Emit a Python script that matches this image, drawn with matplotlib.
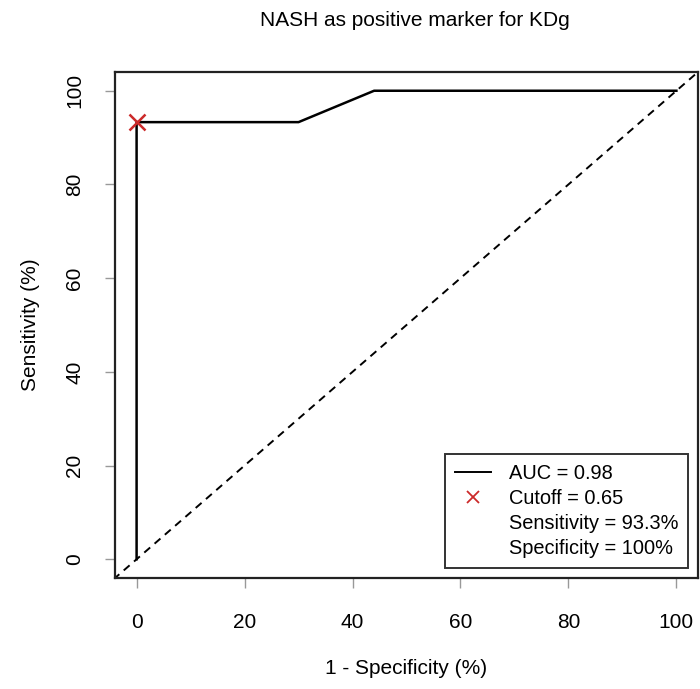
import matplotlib.pyplot as plt
from matplotlib.lines import Line2D

plt.rcParams['font.family'] = ['Liberation Sans', 'DejaVu Sans']

# ROC curve points (percent)
fpr = [0, 0, 30, 44, 100]
tpr = [0, 93.3, 93.3, 100, 100]
cutoff_fpr = 0
cutoff_tpr = 93.3
ticks = [0, 20, 40, 60, 80, 100]
legend_labels = ['AUC = 0.98', 'Cutoff = 0.65', 'Sensitivity = 93.3%', 'Specificity = 100%']

fig = plt.figure(figsize=(7, 6.89), dpi=100)
ax = fig.add_axes([115 / 700, 111 / 689, 583 / 700, 506 / 689])

ax.plot([-10, 110], [-10, 110], color='black', lw=1.4, ls=(0, (4, 3)))
ax.plot(fpr, tpr, color='black', lw=1.8)
ax.plot([cutoff_fpr], [cutoff_tpr], marker='x', color='#cc2a2a', ms=12, mew=1.8, ls='none')

ax.set_xlim(-4, 104)
ax.set_ylim(-4, 104)
ax.set_xticks(ticks)
ax.set_yticks(ticks)
ax.tick_params(axis='both', length=7, color='#999999', labelsize=15, width=1)
ax.tick_params(axis='x', pad=18)
ax.tick_params(axis='y', pad=15)
for lab in ax.get_yticklabels():
    lab.set_rotation(90)
    lab.set_va('center')
for s in ax.spines.values():
    s.set_linewidth(1.6)
    s.set_color('#222222')

ax.set_xlabel('1 - Specificity (%)', fontsize=15, labelpad=20)
ax.set_ylabel('Sensitivity (%)', fontsize=15, labelpad=18)
fig.text(415 / 700, 1 - 20 / 689, 'NASH as positive marker for KDg', ha='center', va='center', fontsize=15)

handles = [
    Line2D([], [], color='black', lw=1.4),
    Line2D([], [], color='#cc2a2a', marker='x', ls='none', ms=8, mew=1.3),
    Line2D([], [], color='none'),
    Line2D([], [], color='none'),
]
leg = ax.legend(handles, legend_labels, loc='lower right', bbox_to_anchor=(0.983, 0.02),
                fontsize=14.4, frameon=True, fancybox=False, edgecolor='black',
                labelspacing=0.3, handlelength=1.8, handletextpad=0.9, borderpad=0.5,
                borderaxespad=0)
leg.get_frame().set_linewidth(1.4)

fig.savefig('out.png', dpi=100)
